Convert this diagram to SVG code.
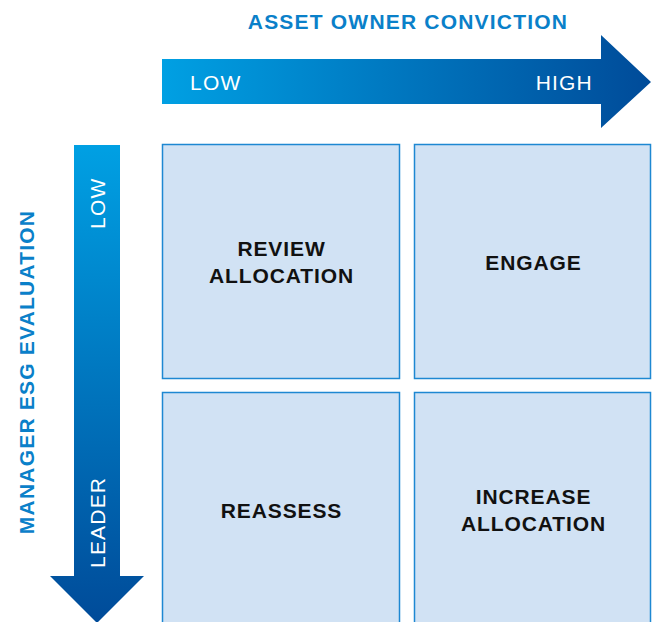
<svg xmlns="http://www.w3.org/2000/svg" width="656" height="622" viewBox="0 0 656 622">
<defs>
<linearGradient id="gh" x1="0" y1="0" x2="1" y2="0">
<stop offset="0" stop-color="#00a0e3"/>
<stop offset="1" stop-color="#004b99"/>
</linearGradient>
<linearGradient id="gv" x1="0" y1="0" x2="0" y2="1">
<stop offset="0" stop-color="#00a0e3"/>
<stop offset="1" stop-color="#004b99"/>
</linearGradient>
</defs>
<style>
.box{fill:#d1e2f4;stroke:#1e88d2;stroke-width:1.5}
.lbl{font-family:"Liberation Sans",Arial,sans-serif;font-weight:bold;font-size:21px;letter-spacing:0.9px;fill:#111;text-anchor:middle}
.ttl{font-family:"Liberation Sans",Arial,sans-serif;font-weight:bold;font-size:21px;letter-spacing:1.2px;fill:#0a80c9;text-anchor:middle}
.ax{font-family:"Liberation Sans",Arial,sans-serif;font-size:21px;letter-spacing:1.2px;fill:#fff}
</style>
<rect width="656" height="622" fill="#fff"/>
<g id="connectors">
<path id="arrow-x" d="M162,59 H601 V35 L651,82 L601,128 V104 H162 Z" fill="url(#gh)"/>
<path id="arrow-y" d="M74,145 H120 V576 H144 L97,623 L50,576 H74 Z" fill="url(#gv)"/>
</g>
<g id="title-x"><text class="ttl" x="408" y="29">ASSET OWNER CONVICTION</text></g>
<g id="title-y"><text class="ttl" transform="translate(34,372) rotate(-90)">MANAGER ESG EVALUATION</text></g>
<g id="axis-labels">
<text class="ax" x="190" y="90">LOW</text>
<text class="ax" x="593" y="90" text-anchor="end">HIGH</text>
<text class="ax" transform="translate(105,229) rotate(-90)">LOW</text>
<text class="ax" transform="translate(105,568) rotate(-90)">LEADER</text>
</g>
<g id="review-allocation">
<rect class="box" x="162.5" y="144.5" width="237" height="234"/>
<text class="lbl" x="281.5" y="256">REVIEW</text>
<text class="lbl" x="281.5" y="283">ALLOCATION</text>
</g>
<g id="engage">
<rect class="box" x="414.5" y="144.5" width="236" height="234"/>
<text class="lbl" x="533.5" y="270">ENGAGE</text>
</g>
<g id="reassess">
<rect class="box" x="162.5" y="392.5" width="237" height="240"/>
<text class="lbl" x="281.5" y="518">REASSESS</text>
</g>
<g id="increase-allocation">
<rect class="box" x="414.5" y="392.5" width="236" height="240"/>
<text class="lbl" x="533.5" y="504">INCREASE</text>
<text class="lbl" x="533.5" y="531">ALLOCATION</text>
</g>
</svg>
